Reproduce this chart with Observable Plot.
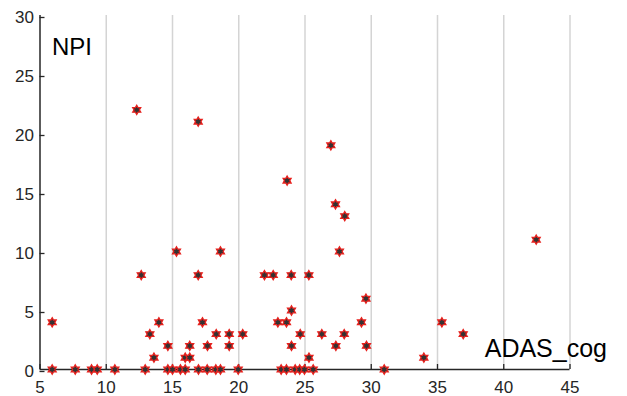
<!DOCTYPE html>
<html><head><meta charset="utf-8">
<script src="https://cdn.jsdelivr.net/npm/d3@7"></script>
<script src="https://cdn.jsdelivr.net/npm/@observablehq/plot@0.6"></script>
<style>
body{margin:0;background:#fff}
</style>
</head><body><div id="chart"></div>
<script>
const adasCog = [5.92,5.92,7.66,8.89,9.32,10.65,
  12.3,12.64,12.94,13.29,13.6,13.97,14.65,14.65,15.0,15.3,15.6,15.96,15.96,16.3,16.3,16.94,16.94,16.96,17.26,17.64,17.62,18.3,18.27,18.62,18.62,19.28,19.28,19.96,20.3,
  21.94,22.6,22.95,23.2,23.6,23.6,23.65,23.96,23.98,23.98,24.26,24.64,24.6,24.96,25.29,25.3,25.62,26.27,26.95,27.3,27.33,27.6,27.96,28.0,29.26,29.6,29.64,30.98,33.97,35.33,36.94,42.45];
const npi = [4,0,0,0,0,0,
  22,8,0,3,1,4,2,0,0,10,0,1,0,1,2,21,8,0,4,2,0,3,0,10,0,3,2,0,3,
  8,8,4,0,4,0,16,8,5,2,0,3,0,0,8,1,0,3,19,14,2,10,3,13,4,6,2,0,1,4,3,11];
const xTicks = [5,10,15,20,25,30,35,40,45];
const yTicks = [0,5,10,15,20,25,30];
const gridTicks = [10,15,20,25,30,35,40,45];
const xLabel = "ADAS_cog";
const yLabel = "NPI";

const data = adasCog.map((x,i)=>({x, y:npi[i]}));

const hexagram = {draw(ctx, size){
  const R = Math.sqrt(size/Math.PI), r = R/Math.sqrt(3);
  for (let i=0;i<12;i++){
    const a = Math.PI/6*i - Math.PI/2, rad = i%2===0?R:r;
    const px = rad*Math.cos(a), py = rad*Math.sin(a);
    if (i===0) ctx.moveTo(px,py); else ctx.lineTo(px,py);
  }
  ctx.closePath();
}};

const chart = Plot.plot({
  width: 627, height: 396,
  marginLeft: 39.5, marginRight: 57.5, marginTop: 15, marginBottom: 27,
  style: {fontFamily: "'Liberation Sans', Arial, sans-serif", fontSize: "17px", color: "#262626", background: "#fff"},
  x: {domain: [xTicks[0], xTicks[xTicks.length-1]]},
  y: {domain: [yTicks[0], yTicks[yTicks.length-1]]},
  marks: [
    Plot.gridX(gridTicks, {stroke: "#d4d4d4", strokeOpacity: 1, strokeWidth: 1.5}),
    Plot.axisX(xTicks, {tickSize: -5, tickPadding: 16.5, label: null, fontSize: 17, fill: "#262626", stroke: "#262626", strokeWidth: 1.3}),
    Plot.axisY(yTicks, {tickSize: -5, tickPadding: 11, dy: 2, label: null, fontSize: 17, fill: "#262626", stroke: "#262626", strokeWidth: 1.3}),
    Plot.ruleX([xTicks[0]], {stroke: "#262626", strokeWidth: 1.5}),
    Plot.ruleY([yTicks[0]], {stroke: "#262626", strokeWidth: 1.5}),
    Plot.dot(data, {x: "x", y: "y", r: 4.6, symbol: hexagram, fill: "#333", stroke: "#e8211d", strokeWidth: 1.3}),
    Plot.text([yLabel], {frameAnchor: "top-left", dx: 12, dy: 39, lineAnchor: "bottom", textAnchor: "start", fontSize: 24, fill: "#000"}),
    Plot.text([xLabel], {frameAnchor: "bottom-right", dx: 37, dy: -12.3, lineAnchor: "bottom", textAnchor: "end", fontSize: 25, fill: "#000"})
  ]
});
document.getElementById("chart").append(chart);
</script>
</body></html>
